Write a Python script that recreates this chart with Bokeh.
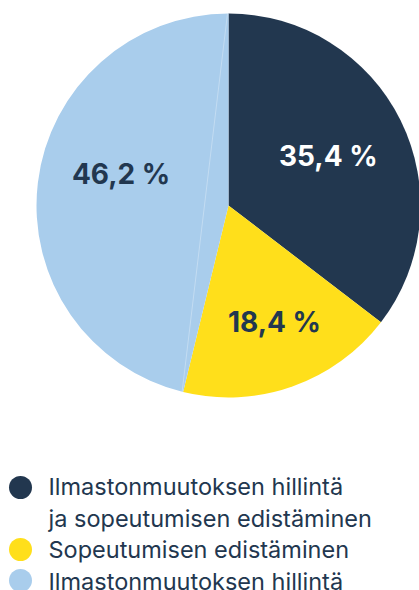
import math
from bokeh.plotting import figure
from bokeh.models import Range1d, ColumnDataSource
from bokeh.core.properties import value
from bokeh.embed import file_html
from bokeh.resources import INLINE

# ---- data ----
categories = ["Ilmastonmuutoksen hillintä ja sopeutumisen edistäminen",
              "Sopeutumisen edistäminen",
              "Ilmastonmuutoksen hillintä"]
legend_lines = [["Ilmastonmuutoksen hillintä", "ja sopeutumisen edistäminen"],
                ["Sopeutumisen edistäminen"],
                ["Ilmastonmuutoksen hillintä"]]
shares = [35.4, 18.4, 46.2]
share_labels = ["35,4 %", "18,4 %", "46,2 %"]
colors = ["#22374f", "#ffdf1b", "#a9cdec"]
label_colors = ["#ffffff", "#22374f", "#22374f"]

# ---- layout (page pixels, y measured from top) ----
W, H = 419, 590
CX, CY_TOP = 228, 205
R = 192
label_r = [113, 122, 113]
label_dang = [-1.6, -2.7, 11.2]  # degrees offset (clockwise)
FONT = "Inter"
NAVY = "#22374f"


def Y(y_top):
    return H - y_top


CY = Y(CY_TOP)

p = figure(width=W, height=H, x_range=Range1d(0, W), y_range=Range1d(0, H),
           output_backend="svg", toolbar_location=None, min_border=0)
p.axis.visible = False
p.grid.visible = False
p.outline_line_color = None
p.background_fill_color = "white"
p.border_fill_color = "white"

total = sum(shares)
starts, ends, lx, ly = [], [], [], []
cum = 0.0
for i, s in enumerate(shares):
    a0 = cum / total * 2 * math.pi
    cum += s
    a1 = cum / total * 2 * math.pi
    starts.append(math.pi / 2 - a0)
    ends.append(math.pi / 2 - a1)
    mid = (a0 + a1) / 2 + math.radians(label_dang[i])
    lx.append(CX + label_r[i] * math.sin(mid))
    ly.append(CY + label_r[i] * math.cos(mid) - 3)

src = ColumnDataSource(dict(x=[CX] * 3, y=[CY] * 3, start=starts, end=ends,
                            color=colors))
p.wedge(x="x", y="y", radius=R, radius_units="screen", start_angle="start",
        end_angle="end", direction="clock", fill_color="color",
        line_color=None, source=src)

# faint seam line seen in the reference (between slice boundary points)
b_ang = [0.0, (shares[0] + shares[1]) / total * 2 * math.pi]
p.line(x=[CX - 1 + R * math.sin(a) for a in b_ang],
       y=[CY + R * math.cos(a) for a in b_ang],
       line_color="white", line_alpha=0.3, line_width=1)

p.text(x=lx, y=ly, text=share_labels, text_color=label_colors,
       text_font=value(FONT), text_font_size="28px", text_font_style="bold",
       text_align="center", text_baseline="middle")

# ---- legend ----
row_h = 31.5
base_top = 486  # first legend row baseline (page px from top)
row = 0
cx_leg, cy_leg, tx, ty, tt = [], [], [], [], []
for i, lines in enumerate(legend_lines):
    for j, t in enumerate(lines):
        yb = Y(base_top + row * row_h)
        tx.append(48)
        ty.append(yb)
        tt.append(t)
        if j == 0:
            cx_leg.append(20)
            cy_leg.append(Y(487 + row * row_h - 0.5 * row))
        row += 1

p.scatter(x=cx_leg, y=cy_leg, size=23, marker="circle", fill_color=colors,
          line_color=None)
p.text(x=tx, y=ty, text=tt, text_color=NAVY, text_font=value(FONT),
       text_font_size="23.5px", text_align="left", text_baseline="alphabetic")

open("out.html", "w").write(file_html(p, INLINE))
